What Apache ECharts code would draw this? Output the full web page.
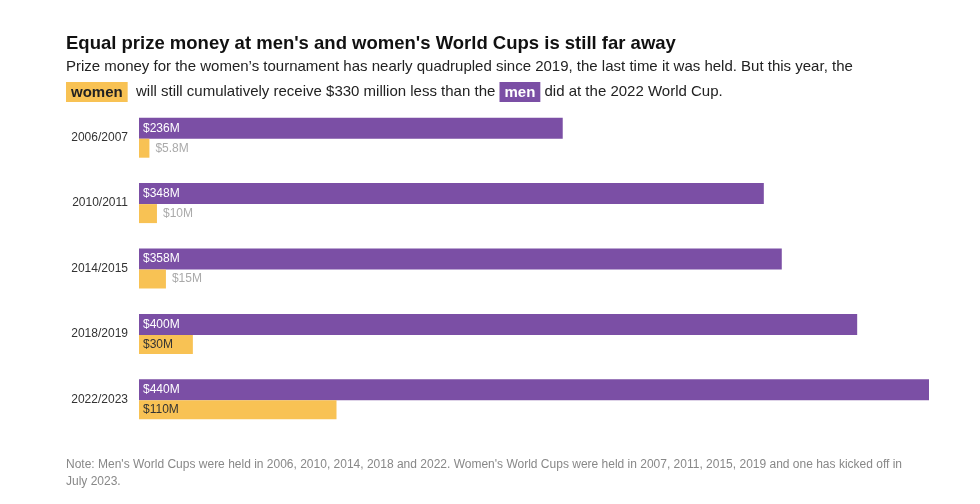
<!DOCTYPE html>
<html><head><meta charset="utf-8">
<script src="https://cdn.jsdelivr.net/npm/echarts@6/dist/echarts.min.js"></script>
<style>html,body{margin:0;background:#fff}#c{width:980px;height:504px}</style>
</head><body><div id="c"></div>
<script>
const categories = ['2006/2007','2010/2011','2014/2015','2018/2019','2022/2023'];
const men = [236, 348, 358, 400, 440];
const women = [5.8, 10, 15, 30, 110];
const menLabels = ['$236M','$348M','$358M','$400M','$440M'];
const womenLabels = ['$5.8M','$10M','$15M','$30M','$110M'];

const F = 'Liberation Sans, Arial, sans-serif';
const chart = echarts.init(document.getElementById('c'));
chart.setOption({
  animation: false,
  textStyle: {fontFamily: F},
  title: [
    {text: "Equal prize money at men's and women's World Cups is still far away", left: 61, top: 29,
     textStyle: {fontFamily: F, fontSize: 18.5, fontWeight: 'bold', color: '#111'}},
    {text: 'Prize money for the women\u2019s tournament has nearly quadrupled since 2019, the last time it was held. But this year, the', left: 61, top: 54,
     textStyle: {fontFamily: F, fontSize: 15, fontWeight: 'normal', color: '#222'}},
    {text: '{w|women}  will still cumulatively receive $330 million less than the {m|men} did at the 2022 World Cup.', left: 61, top: 77,
     textStyle: {fontFamily: F, fontSize: 15, fontWeight: 'normal', color: '#222',
       rich: {
         w: {backgroundColor: '#f8c254', color: '#222', fontWeight: 'bold', fontSize: 15, padding: [3, 5, 2, 5]},
         m: {backgroundColor: '#7b4fa5', color: '#fff', fontWeight: 'bold', fontSize: 15, padding: [3, 5, 2, 5]}
       }}},
    {text: "Note: Men's World Cups were held in 2006, 2010, 2014, 2018 and 2022. Women's World Cups were held in 2007, 2011, 2015, 2019 and one has kicked off in\nJuly 2023.", left: 61, top: 451,
     textStyle: {fontFamily: F, fontSize: 12, fontWeight: 'normal', color: '#888', lineHeight: 17}}
  ],
  grid: {left: 139, right: 51, top: 105, bottom: 72},
  xAxis: {type: 'value', min: 0, max: 440, show: false},
  yAxis: {type: 'category', data: categories, inverse: true,
    axisLine: {show: false}, axisTick: {show: false},
    axisLabel: {color: '#333', fontSize: 12, margin: 11, fontFamily: F}},
  series: [
    {type: 'bar', name: 'Men', data: men, barWidth: 21, barGap: '0%', itemStyle: {color: '#7b4fa5'},
     label: {show: true, position: 'insideLeft', offset: [-1, 0], color: '#fff', fontSize: 12,
       formatter: p => menLabels[p.dataIndex]}},
    {type: 'bar', name: 'Women', barWidth: 19,
     data: women.map((v, i) => ({value: v, label: v >= 30
        ? {position: 'insideLeft', color: '#333', offset: [-1, 0]}
        : {position: 'right', color: '#aaa', distance: 6}})),
     itemStyle: {color: '#f8c254'},
     label: {show: true, fontSize: 12, formatter: p => womenLabels[p.dataIndex]}}
  ]
});
</script></body></html>
